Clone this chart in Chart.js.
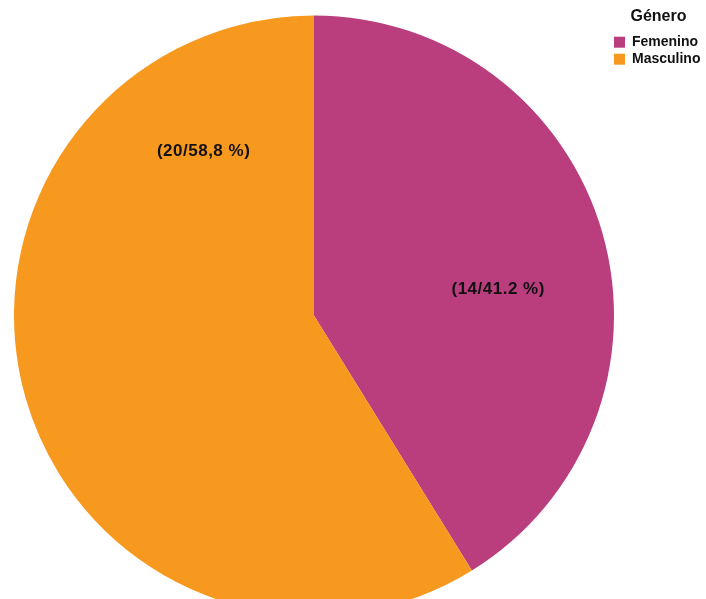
<!DOCTYPE html>
<html>
<head>
<meta charset="utf-8">
<script src="https://cdn.jsdelivr.net/npm/chart.js@4/dist/chart.umd.min.js"></script>
<style>
  html, body { margin: 0; padding: 0; background: #fff; overflow: hidden; }
  #wrap { position: relative; width: 706px; height: 631px; }
</style>
</head>
<body>
<div id="wrap"><canvas id="pie-genero"></canvas></div>
<script>
var categorias = ['Femenino', 'Masculino'];
var conteos = [14, 20];
var porcentajes = ['41.2', '58,8'];   // as printed in the original (mixed separators)
var colores = ['#BA3D7D', '#F7991E'];

// where each value label sits inside its slice: fraction along the arc, fraction of radius
var posEtiqueta = {
    along: [0.553, 0.84],
    radial: [0.62, 0.66]
};

var fuente = '"Liberation Sans", Arial, sans-serif';

var etiquetasPlugin = {
    id: 'etiquetas',
    afterDatasetsDraw: function(chart) {
        var ctx = chart.ctx;
        var meta = chart.getDatasetMeta(0);
        ctx.save();
        ctx.font = 'bold 17px ' + fuente;
        ctx.letterSpacing = '0.5px';
        ctx.fillStyle = '#111';
        ctx.textAlign = 'center';
        ctx.textBaseline = 'middle';
        meta.data.forEach(function(arc, i) {
            var p = arc.getProps(['x', 'y', 'startAngle', 'endAngle', 'outerRadius'], true);
            var a = p.startAngle + (p.endAngle - p.startAngle) * posEtiqueta.along[i];
            var r = p.outerRadius * posEtiqueta.radial[i];
            var txt = '(' + conteos[i] + '/' + porcentajes[i] + ' %)';
            ctx.fillText(txt, p.x + Math.cos(a) * r, p.y + Math.sin(a) * r);
        });
        ctx.restore();
    }
};

var ctx = document.getElementById('pie-genero').getContext('2d');

var pieGenero = new Chart(ctx, {
    type: 'pie',
    data: {
        labels: categorias,
        datasets: [{
            data: conteos,
            backgroundColor: colores,
            borderWidth: 0,
            radius: 300
        }]
    },
    options: {
        responsive: true,
        maintainAspectRatio: false,
        animation: false,
        layout: {
            padding: { left: 17, top: 0, bottom: 0, right: 0 }
        },
        plugins: {
            legend: {
                position: 'right',
                align: 'start',
                maxWidth: 95,
                title: {
                    display: true,
                    text: 'Género',
                    color: '#111',
                    font: { family: fuente, size: 16, weight: 'bold' },
                    padding: { top: 9, bottom: 4 }
                },
                labels: {
                    boxWidth: 11,
                    boxHeight: 11,
                    padding: 3,
                    color: '#111',
                    font: { family: fuente, size: 14, weight: 'bold' }
                }
            },
            tooltip: { enabled: false }
        }
    },
    plugins: [etiquetasPlugin]
});
</script>
</body>
</html>
